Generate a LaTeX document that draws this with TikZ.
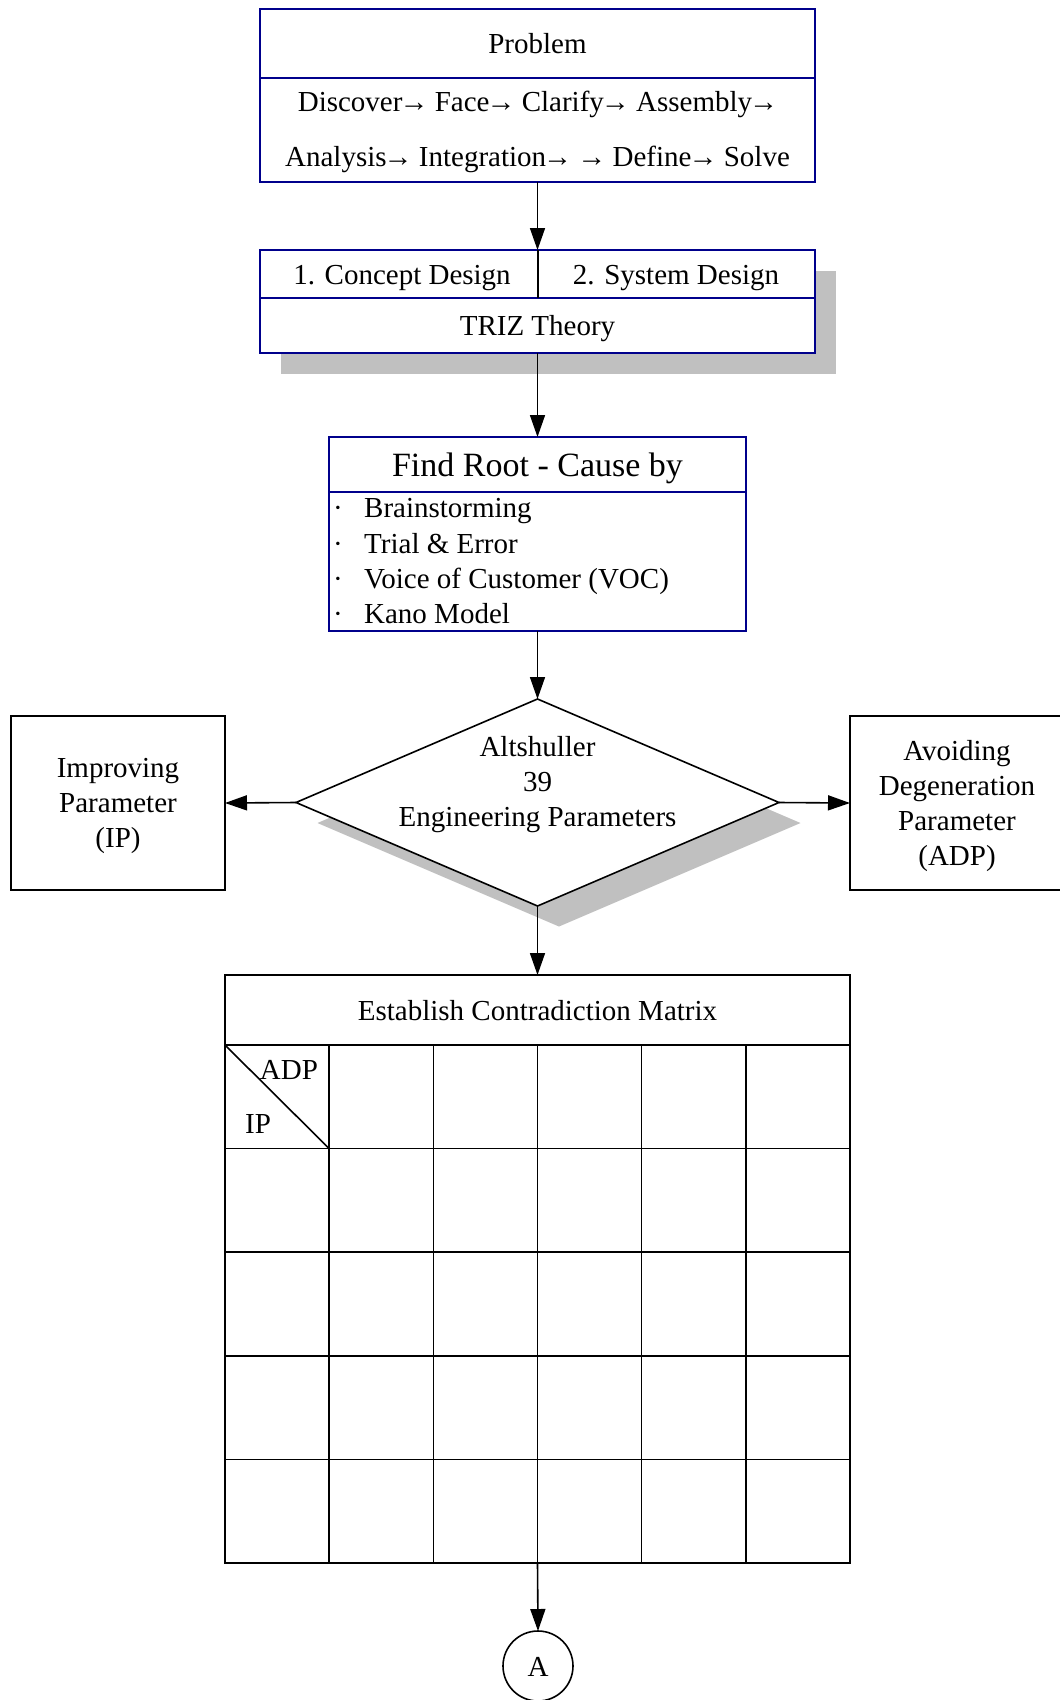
\documentclass[tikz,border=0pt]{standalone}
\usepackage{fontspec}
\setmainfont{Liberation Serif}
\usetikzlibrary{shapes.geometric,arrows.meta}
\definecolor{navyline}{RGB}{0,0,140}
\definecolor{shadowgray}{RGB}{192,192,192}
% tight arrow between process steps
\newcommand{\stepto}{\kern-3pt→\kern-1pt}
\begin{document}
\begin{tikzpicture}[x=1pt,y=-1pt,
  lbl/.style={font=\fontsize{29pt}{35pt}\selectfont, inner sep=0pt, align=center},
  biglbl/.style={font=\fontsize{34pt}{40pt}\selectfont, inner sep=0pt, align=center},
  bluebox/.style={draw=navyline, line width=1.8pt, fill=white, inner sep=0pt, outer sep=0pt},
  blackbox/.style={draw=black, line width=1.6pt, fill=white, inner sep=0pt, outer sep=0pt},
  shadowbox/.style={fill=shadowgray, draw=none, inner sep=0pt, outer sep=0pt},
  navyrule/.style={draw=navyline, line width=1.8pt},
  gridrule/.style={draw=black, line width=1.6pt},
  flow/.style={draw=black, line width=1.6pt, -{Triangle[length=22pt,width=15pt]}}]
\useasboundingbox (0,0) rectangle (1060,1700);
\clip (0,0) rectangle (1060,1700);
\fill[white] (0,0) rectangle (1060,1700);

% Problem box
\node[bluebox, minimum width=555pt, minimum height=173pt] (prob) at (537.5,95.5) {};
\draw[navyrule] (260,78) -- (815,78);
\node[lbl] (probtitle) at (537.5,43.5) {Problem};
\node[lbl] (probline1) at (537.5,104) {Discover\stepto{} Face\stepto{} Clarify\stepto{} Assembly\stepto};
\node[lbl] (probline2) at (537.5,159) {Analysis\stepto{} Integration\stepto{} \kern-1pt→\kern-1pt{} Define\stepto{} Solve};

% Design stages with TRIZ
\node[shadowbox, minimum width=555pt, minimum height=103pt] (conceptshadow) at (558.5,322.5) {};
\node[bluebox, minimum width=555pt, minimum height=103pt] (concept) at (537.5,301.5) {};
\draw[navyrule] (260,298) -- (815,298);
\coordinate (splittop) at (538,250);
\coordinate (splitbot) at (538,298);
\draw[gridrule] (splittop) -- (splitbot);
\node[lbl] (stage1) at (402,278) {1. Concept Design};
\node[lbl] (stage2) at (676,278) {2. System Design};
\node[lbl] (triz) at (537.5,329) {TRIZ Theory};

% Root cause box
\node[bluebox, minimum width=417pt, minimum height=194pt] (root) at (537.5,534) {};
\draw[navyrule] (329,492) -- (746,492);
\node[biglbl] (roottitle) at (537.5,468) {Find Root - Cause by};
\node[lbl, anchor=west] (item1) at (333,511) {\makebox[31pt][l]{·}Brainstorming};
\node[lbl, anchor=west] (item2) at (333,544) {\makebox[31pt][l]{·}Trial \& Error};
\node[lbl, anchor=west] (item3) at (333,581) {\makebox[31pt][l]{·}Voice of Customer (VOC)};
\node[lbl, anchor=west] (item4) at (333,614) {\makebox[31pt][l]{·}Kano Model};

% Decision diamond
\node[shadowbox, diamond, minimum width=483pt, minimum height=207pt] (altshadow) at (559,823) {};
\node[blackbox, diamond, minimum width=483pt, minimum height=207pt] (alt) at (537.5,802.5) {};
\node[lbl] (alttext) at (537.5,785) {Altshuller\\39\\Engineering Parameters};

% Side parameter boxes
\node[blackbox, minimum width=214pt, minimum height=174pt] (ip) at (118,803) {};
\node[lbl] (iptext) at (118,806) {Improving\\Parameter\\(IP)};
\node[blackbox, minimum width=214pt, minimum height=174pt] (adp) at (957,803) {};
\node[lbl] (adptext) at (957,806) {Avoiding\\Degeneration\\Parameter\\(ADP)};

% Contradiction matrix
\node[blackbox, minimum width=625pt, minimum height=588pt] (cm) at (537.5,1269) {};
\node[lbl] (cmtitle) at (537.5,1011) {Establish Contradiction Matrix};
\foreach \r in {0,...,4} {
  \draw[gridrule] (225,1045+\r*103.6) -- (850,1045+\r*103.6);
}
\foreach \c in {1,...,5} {
  \draw[gridrule] (225+\c*104.17,1045) -- (225+\c*104.17,1563);
}
\coordinate (diagA) at (225,1045);
\coordinate (diagB) at (329.17,1148.6);
\draw[gridrule] (diagA) -- (diagB);
\node[lbl] (cornerADP) at (289,1070) {ADP};
\node[lbl] (cornerIP) at (258,1124) {IP};

% Off-page connector
\node[blackbox, circle, minimum size=70pt] (conA) at (538,1666) {};
\node[lbl] (conAtext) at (538,1667) {A};

% Connectors
\draw[flow] (prob.south) -- (concept.north);
\draw[flow] (concept.south) -- (root.north);
\draw[flow] (root.south) -- (alt.north);
\draw[flow] (alt.west) -- (ip.east);
\draw[flow] (alt.east) -- (adp.west);
\draw[flow] (alt.south) -- (cm.north);
\draw[flow] (cm.south) -- (conA.north);
\end{tikzpicture}
\end{document}
